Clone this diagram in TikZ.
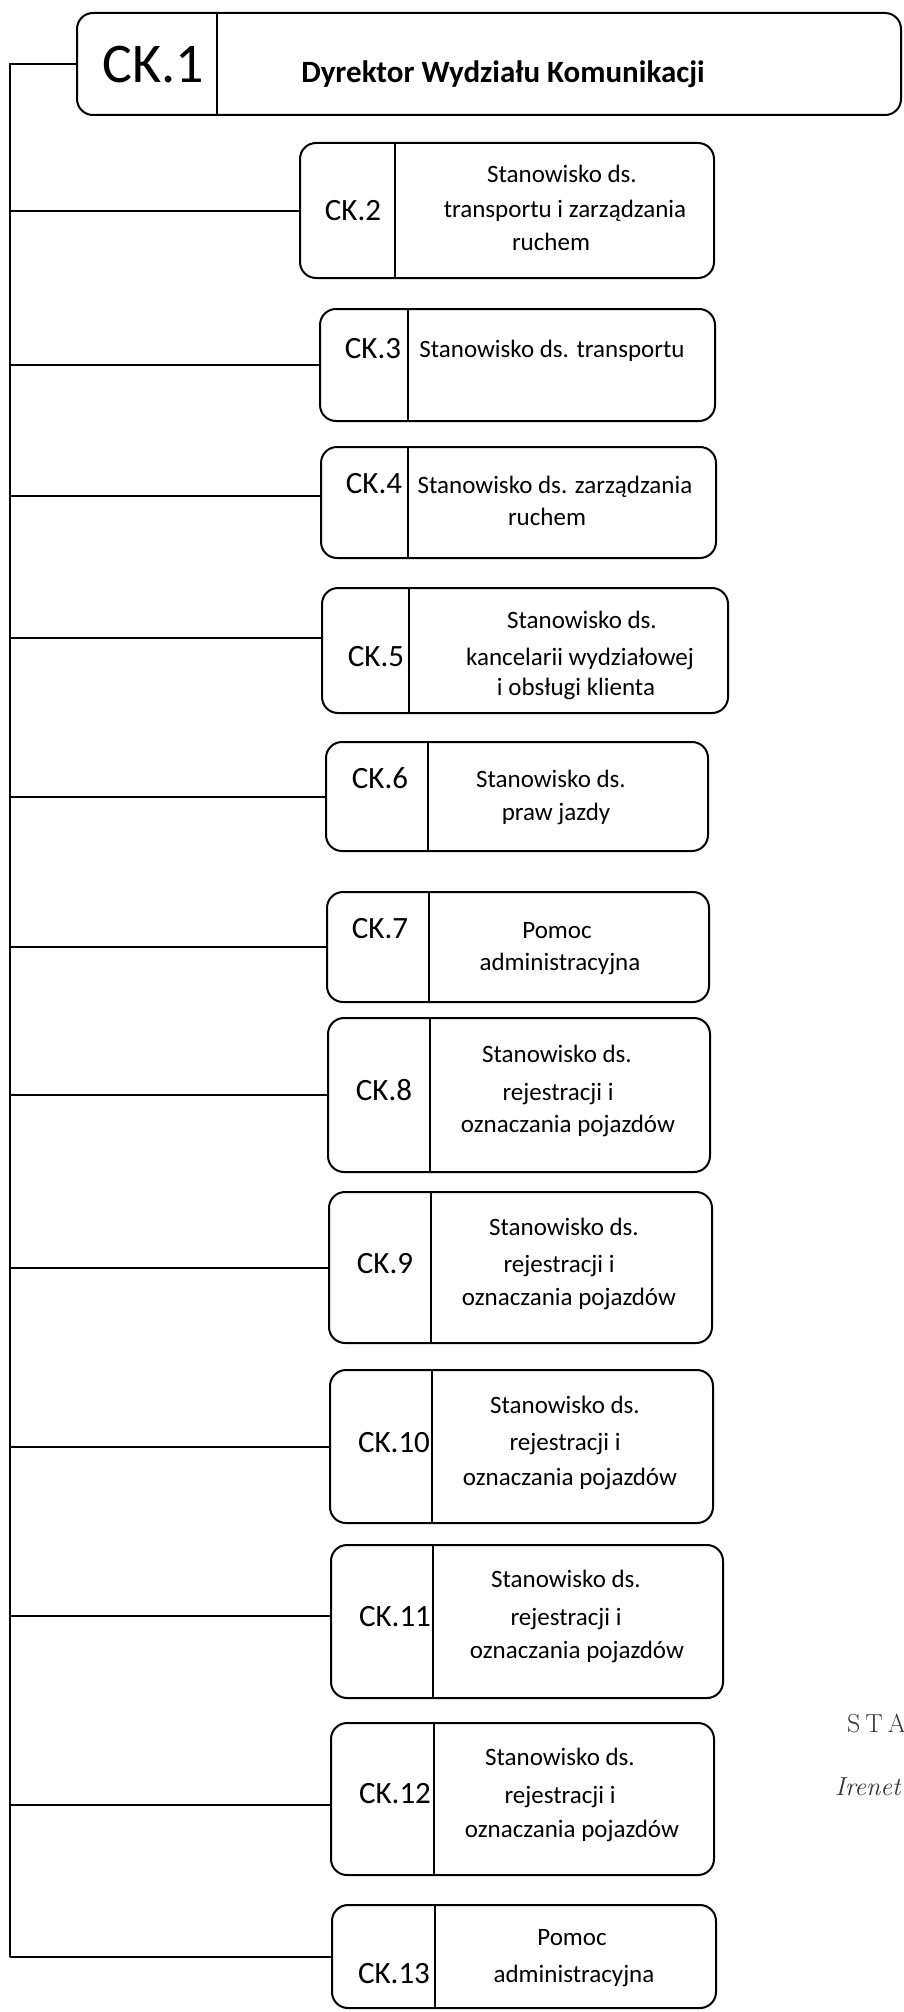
\documentclass[tikz,border=0pt]{standalone}
\usepackage{fontspec}
\newfontfamily\calfont{Carlito}
\usetikzlibrary{fit}
\tikzset{
  unit/.style={draw, line width=2pt, rounded corners=16pt, inner sep=0pt, outer sep=0pt},
  divider/.style={line width=1.8pt},
  link/.style={line width=2pt},
  lab/.style={anchor=base, inner sep=0pt, font=\calfont\fontsize{31}{37}\selectfont},
  biglab/.style={anchor=base, inner sep=0pt, font=\calfont\fontsize{56}{60}\selectfont},
  title/.style={anchor=base, inner sep=0pt, font=\calfont\bfseries\fontsize{31}{36}\selectfont},
  txt/.style={anchor=base, inner sep=0pt, font=\calfont\fontsize{25}{30}\selectfont},
  stamp/.style={anchor=base west, inner sep=0pt, text=black!80, font=\fontsize{26}{30}\selectfont},
}
\newcommand{\ukbox}[6]{\node[unit, fit={(#2,#3) (#4,#5)}] (#1) {};
  \draw[divider] (#6,#3) -- (#6,#5);}
\newcommand{\tl}[4]{\node[txt] (#1) at (#2,#3) {#4};}
\begin{document}
\begin{tikzpicture}[x=1pt,y=-1pt]
\fill[white] (0,0) rectangle (903,2012);
\useasboundingbox (0,0) rectangle (903,2012);

% boxes
\ukbox{b1}{77}{13}{901}{115}{217}
\ukbox{b2}{300}{143}{714}{278}{395}
\ukbox{b3}{320}{309}{715}{421}{408}
\ukbox{b4}{321}{447}{716}{558}{408}
\ukbox{b5}{322}{588}{728}{713}{409}
\ukbox{b6}{326}{742}{708}{851}{428}
\ukbox{b7}{327}{892}{709}{1002}{429}
\ukbox{b8}{328}{1018}{710}{1172}{430}
\ukbox{b9}{329}{1192}{712}{1343}{431}
\ukbox{b10}{330}{1370}{713}{1523}{432}
\ukbox{b11}{331}{1545}{723}{1698}{433}
\ukbox{b12}{331}{1723}{714}{1875}{434}
\ukbox{b13}{332}{1905}{716}{2008}{435}

% labels
\node[biglab] (k1) at (153,83) {CK.1};
\node[title] (t1) at (503,83) {Dyrektor Wydziału Komunikacji};
\node[lab] (k2) at (353,220) {CK.2};
\node[lab] (k3) at (373,358) {CK.3};
\node[lab] (k4) at (374,493) {CK.4};
\node[lab] (k5) at (376,666) {CK.5};
\node[lab] (k6) at (380,788) {CK.6};
\node[lab] (k7) at (380,938) {CK.7};
\node[lab] (k8) at (384,1100) {CK.8};
\node[lab] (k9) at (385,1273) {CK.9};
\node[lab] (k10) at (394,1452) {CK.10};
\node[lab] (k11) at (395,1626) {CK.11};
\node[lab] (k12) at (395,1803) {CK.12};
\node[lab] (k13) at (394,1983) {CK.13};

% texts
\tl{t2a}{562}{183}{Stanowisko ds.}
\tl{t2b}{565}{218}{transportu i zarządzania}
\tl{t2c}{551}{250}{ruchem}
\tl{t3a}{552}{357}{Stanowisko ds. transportu}
\tl{t4a}{555}{493}{Stanowisko ds. zarządzania}
\tl{t4b}{547}{525}{ruchem}
\tl{t5a}{582}{628}{Stanowisko ds.}
\tl{t5b}{580}{665}{kancelarii wydziałowej}
\tl{t5c}{576}{695}{i obsługi klienta}
\tl{t6a}{551}{787}{Stanowisko ds.}
\tl{t6b}{556}{820}{praw jazdy}
\tl{t7a}{557}{938}{Pomoc}
\tl{t7b}{560}{970}{administracyjna}
\tl{t8a}{557}{1062}{Stanowisko ds.}
\tl{t8b}{558}{1100}{rejestracji i}
\tl{t8c}{568}{1132}{oznaczania pojazdów}
\tl{t9a}{564}{1235}{Stanowisko ds.}
\tl{t9b}{559}{1272}{rejestracji i}
\tl{t9c}{569}{1305}{oznaczania pojazdów}
\tl{t10a}{565}{1413}{Stanowisko ds.}
\tl{t10b}{565}{1450}{rejestracji i}
\tl{t10c}{570}{1485}{oznaczania pojazdów}
\tl{t11a}{566}{1587}{Stanowisko ds.}
\tl{t11b}{566}{1625}{rejestracji i}
\tl{t11c}{577}{1658}{oznaczania pojazdów}
\tl{t12a}{560}{1765}{Stanowisko ds.}
\tl{t12b}{560}{1803}{rejestracji i}
\tl{t12c}{572}{1837}{oznaczania pojazdów}
\tl{t13a}{572}{1945}{Pomoc}
\tl{t13b}{574}{1982}{administracyjna}

% connectors
\coordinate (tb) at (10,1957);
\draw[link] (b1.west) -| (tb) |- (b13.west);
\draw[link] (b2.west) -- (b2.west -| tb);
\draw[link] (b3.west) -- (b3.west -| tb);
\draw[link] ([yshift=7pt]b4.west) -- ([yshift=7pt]b4.west -| tb);
\draw[link] ([yshift=13pt]b5.west) -- ([yshift=13pt]b5.west -| tb);
\draw[link] (b6.west) -- (b6.west -| tb);
\draw[link] (b7.west) -- (b7.west -| tb);
\draw[link] (b8.west) -- (b8.west -| tb);
\draw[link] (b9.west) -- (b9.west -| tb);
\draw[link] (b10.west) -- (b10.west -| tb);
\draw[link] ([yshift=6pt]b11.west) -- ([yshift=6pt]b11.west -| tb);
\draw[link] ([yshift=-6pt]b12.west) -- ([yshift=-6pt]b12.west -| tb);

% stamp fragment
\node[stamp] (s1) at (847,1732) {S\kern5pt T\kern5pt A};
\node[stamp] (s2) at (835,1795) {\itshape Irenet};
\end{tikzpicture}
\end{document}
